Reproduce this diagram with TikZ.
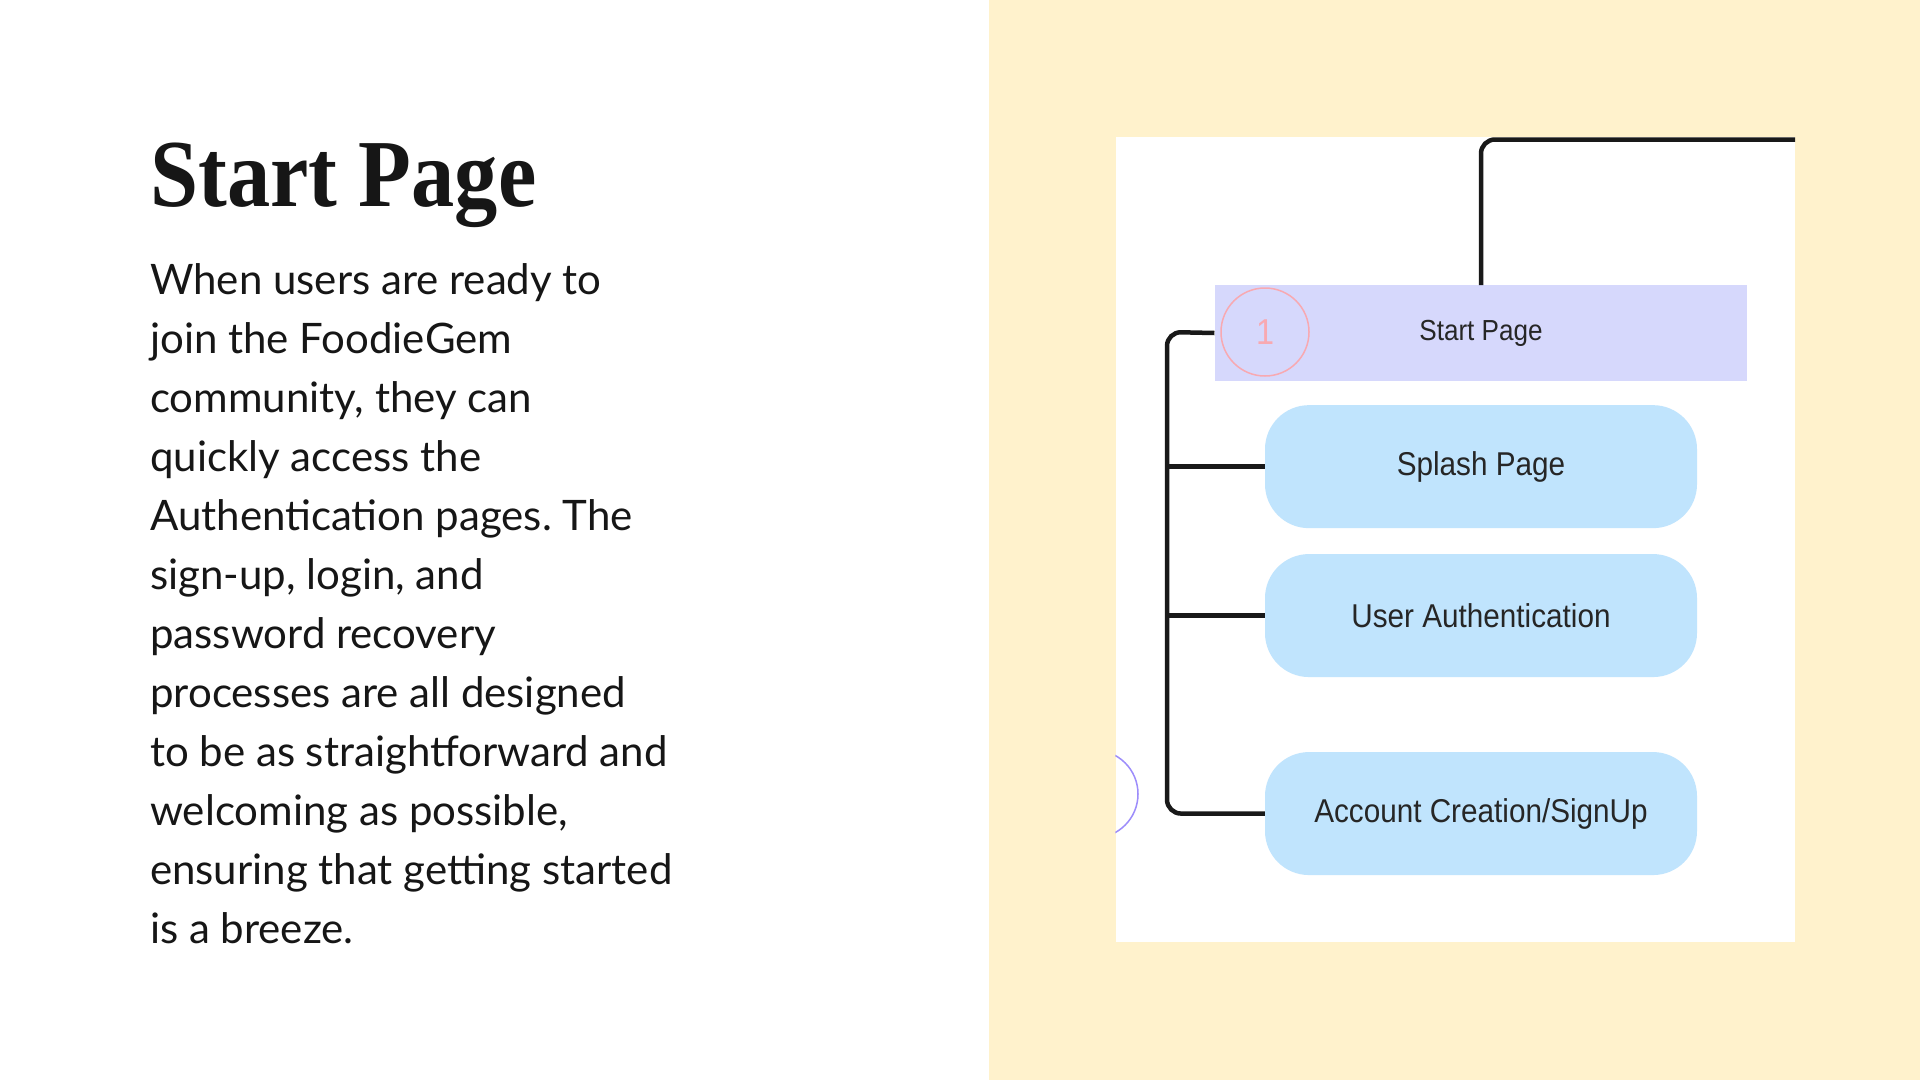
\documentclass[tikz,border=0pt]{standalone}
\usepackage{fontspec}
\setmainfont{Lato}
\newfontfamily\titlefont[FakeStretch=0.9]{Liberation Serif}
\newfontfamily\boxfont[FakeStretch=0.9]{Liberation Sans}
\usetikzlibrary{positioning}
\frenchspacing

\definecolor{paneyellow}{HTML}{FFF2CC}
\definecolor{startlav}{HTML}{D6D8FC}
\definecolor{pageblue}{HTML}{C0E4FD}
\definecolor{badgepink}{HTML}{F8A9B1}
\definecolor{arcpurple}{HTML}{9D8DFB}
\definecolor{inktext}{HTML}{161616}

\tikzset{
  bodyline/.style={anchor=base west, inner sep=0pt, text=inktext, font=\fontsize{42}{59}\selectfont},
  startbox/.style={fill=startlav, minimum width=532.7pt, minimum height=95.5pt, text=black!85, font=\boxfont\fontsize{29}{34}\selectfont},
  pagebox/.style={fill=pageblue, rounded corners=44pt, minimum width=432pt, minimum height=123pt, text=black!85, font=\boxfont\fontsize{33}{38}\selectfont},
  badge/.style={circle, draw=badgepink, line width=1.5pt, minimum size=88pt, text=badgepink, font=\boxfont\fontsize{36}{40}\selectfont},
  ring/.style={circle, draw=arcpurple, line width=1.5pt, minimum size=88pt},
  conn/.style={line width=4.5pt, draw=black!90, rounded corners=14pt},
}

\begin{document}
\begin{tikzpicture}[x=1pt, y=-1pt]
    \useasboundingbox (0,0) rectangle (1920,1080);
    \fill[white] (0,0) rectangle (1920,1080);
    \fill[paneyellow] (989,0) rectangle (1920,1080);

    % left column
    \node[anchor=base west, inner sep=0pt, text=inktext, font=\titlefont\bfseries\fontsize{96}{100}\selectfont] (title) at (150,206) {Start Page};
    \foreach \n/\txt in {0/{When users are ready to}, 1/{join the FoodieGem}, 2/{community, they can},
        3/{quickly access the}, 4/{Authentication pages. The}, 5/{sign-up, login, and},
        6/{password recovery}, 7/{processes are all designed}, 8/{to be as straightforward and},
        9/{welcoming as possible,}, 10/{ensuring that getting started}, 11/{is a breeze.}}
	\node[bodyline] (body\n) at (150,{294+59*\n}) {\txt};

    % site map
    \node[fill=white, minimum width=679.5pt, minimum height=804.5pt, inner sep=0pt] (panel) at (1455.25,539.25) {};
    \begin{scope}
        \clip (panel.south west) rectangle (panel.north east);
        \node[ring] (prevring) at (1094,794) {};
    \end{scope}

    \node[startbox] (start) at (1481,333) {Start Page};
    \node[badge] (one) at (1265,332) {1};
    \node[pagebox, below=24pt of start] (splash) {Splash Page};
    \node[pagebox, below=25.5pt of splash] (auth) {User Authentication};
    \node[pagebox, below=74.6pt of auth] (signup) {Account Creation/SignUp};

    \coordinate (exit) at (panel.east |- 0,139.5);
    \coordinate (spine) at (1167,332);
    \draw[conn] (start.north) |- (exit);
    \draw[conn] (start.west) -- (spine) |- (signup.west);
    \draw[conn] (splash.west) -- (splash.west -| spine);
    \draw[conn] (auth.west) -- (auth.west -| spine);
\end{tikzpicture}
\end{document}
